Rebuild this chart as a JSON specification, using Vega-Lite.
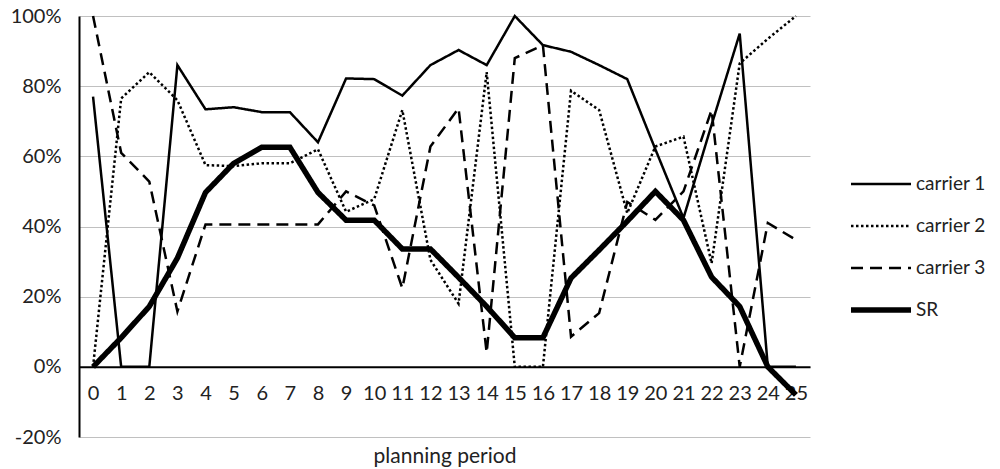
{
  "$schema": "https://vega.github.io/schema/vega-lite/v6.json",
  "autosize": {"type": "none"},
  "padding": {"left": 79, "top": 16, "right": 190, "bottom": 32},
  "width": 731,
  "height": 421,
  "background": "white",
  "config": {
    "font": "Lato",
    "view": {"stroke": null},
    "legend": {
      "title": null,
      "orient": "none",
      "legendX": 769,
      "legendY": 157,
      "symbolType": "stroke",
      "symbolStrokeColor": "black",
      "symbolSize": 3600,
      "labelFont": "Lato",
      "labelFontSize": 19,
      "labelColor": "#222",
      "labelOffset": 2,
      "rowPadding": 20,
      "clipHeight": 22
    }
  },
  "datasets": {
    "series": [
      {"period": 0, "series": "carrier 1", "value": 77}, {"period": 1, "series": "carrier 1", "value": 0}, {"period": 2, "series": "carrier 1", "value": 0}, {"period": 3, "series": "carrier 1", "value": 86}, {"period": 4, "series": "carrier 1", "value": 73.4}, {"period": 5, "series": "carrier 1", "value": 74}, {"period": 6, "series": "carrier 1", "value": 72.6}, {"period": 7, "series": "carrier 1", "value": 72.6}, {"period": 8, "series": "carrier 1", "value": 64}, {"period": 9, "series": "carrier 1", "value": 82.2}, {"period": 10, "series": "carrier 1", "value": 82}, {"period": 11, "series": "carrier 1", "value": 77.3}, {"period": 12, "series": "carrier 1", "value": 86}, {"period": 13, "series": "carrier 1", "value": 90.3}, {"period": 14, "series": "carrier 1", "value": 86}, {"period": 15, "series": "carrier 1", "value": 100}, {"period": 16, "series": "carrier 1", "value": 91.7}, {"period": 17, "series": "carrier 1", "value": 89.8}, {"period": 18, "series": "carrier 1", "value": 86}, {"period": 19, "series": "carrier 1", "value": 82}, {"period": 20, "series": "carrier 1", "value": 62}, {"period": 21, "series": "carrier 1", "value": 42.4}, {"period": 22, "series": "carrier 1", "value": 69}, {"period": 23, "series": "carrier 1", "value": 95}, {"period": 24, "series": "carrier 1", "value": 0}, {"period": 25, "series": "carrier 1", "value": 0},
      {"period": 0, "series": "carrier 2", "value": 0}, {"period": 1, "series": "carrier 2", "value": 76.5}, {"period": 2, "series": "carrier 2", "value": 84}, {"period": 3, "series": "carrier 2", "value": 76}, {"period": 4, "series": "carrier 2", "value": 57.5}, {"period": 5, "series": "carrier 2", "value": 57.2}, {"period": 6, "series": "carrier 2", "value": 58}, {"period": 7, "series": "carrier 2", "value": 58}, {"period": 8, "series": "carrier 2", "value": 62}, {"period": 9, "series": "carrier 2", "value": 44.2}, {"period": 10, "series": "carrier 2", "value": 47.8}, {"period": 11, "series": "carrier 2", "value": 73.2}, {"period": 12, "series": "carrier 2", "value": 30.5}, {"period": 13, "series": "carrier 2", "value": 18}, {"period": 14, "series": "carrier 2", "value": 84}, {"period": 15, "series": "carrier 2", "value": 0}, {"period": 16, "series": "carrier 2", "value": 0}, {"period": 17, "series": "carrier 2", "value": 78.7}, {"period": 18, "series": "carrier 2", "value": 73.2}, {"period": 19, "series": "carrier 2", "value": 43.8}, {"period": 20, "series": "carrier 2", "value": 62.8}, {"period": 21, "series": "carrier 2", "value": 65.6}, {"period": 22, "series": "carrier 2", "value": 29.5}, {"period": 23, "series": "carrier 2", "value": 86.5}, {"period": 24, "series": "carrier 2", "value": 93.5}, {"period": 25, "series": "carrier 2", "value": 100},
      {"period": 0, "series": "carrier 3", "value": 100}, {"period": 1, "series": "carrier 3", "value": 61}, {"period": 2, "series": "carrier 3", "value": 52.8}, {"period": 3, "series": "carrier 3", "value": 15.8}, {"period": 4, "series": "carrier 3", "value": 40.6}, {"period": 5, "series": "carrier 3", "value": 40.6}, {"period": 6, "series": "carrier 3", "value": 40.6}, {"period": 7, "series": "carrier 3", "value": 40.6}, {"period": 8, "series": "carrier 3", "value": 40.6}, {"period": 9, "series": "carrier 3", "value": 50}, {"period": 10, "series": "carrier 3", "value": 46}, {"period": 11, "series": "carrier 3", "value": 22.4}, {"period": 12, "series": "carrier 3", "value": 62.8}, {"period": 13, "series": "carrier 3", "value": 73.7}, {"period": 14, "series": "carrier 3", "value": 4}, {"period": 15, "series": "carrier 3", "value": 88}, {"period": 16, "series": "carrier 3", "value": 91.7}, {"period": 17, "series": "carrier 3", "value": 8.6}, {"period": 18, "series": "carrier 3", "value": 15.3}, {"period": 19, "series": "carrier 3", "value": 47}, {"period": 20, "series": "carrier 3", "value": 41.9}, {"period": 21, "series": "carrier 3", "value": 50}, {"period": 22, "series": "carrier 3", "value": 73.2}, {"period": 23, "series": "carrier 3", "value": 0}, {"period": 24, "series": "carrier 3", "value": 41}, {"period": 25, "series": "carrier 3", "value": 36.2},
      {"period": 0, "series": "SR", "value": 0}, {"period": 1, "series": "SR", "value": 8.3}, {"period": 2, "series": "SR", "value": 17.2}, {"period": 3, "series": "SR", "value": 31}, {"period": 4, "series": "SR", "value": 49.7}, {"period": 5, "series": "SR", "value": 58}, {"period": 6, "series": "SR", "value": 62.6}, {"period": 7, "series": "SR", "value": 62.6}, {"period": 8, "series": "SR", "value": 49.7}, {"period": 9, "series": "SR", "value": 41.8}, {"period": 10, "series": "SR", "value": 41.8}, {"period": 11, "series": "SR", "value": 33.6}, {"period": 12, "series": "SR", "value": 33.6}, {"period": 13, "series": "SR", "value": 25.5}, {"period": 14, "series": "SR", "value": 17.2}, {"period": 15, "series": "SR", "value": 8.3}, {"period": 16, "series": "SR", "value": 8.3}, {"period": 17, "series": "SR", "value": 25.3}, {"period": 18, "series": "SR", "value": 33.3}, {"period": 19, "series": "SR", "value": 41.5}, {"period": 20, "series": "SR", "value": 50}, {"period": 21, "series": "SR", "value": 41.8}, {"period": 22, "series": "SR", "value": 25.6}, {"period": 23, "series": "SR", "value": 17.2}, {"period": 24, "series": "SR", "value": 0}, {"period": 25, "series": "SR", "value": -8}
    ]
  },
  "data": {"name": "series"},
  "mark": {"type": "line", "color": "black", "strokeCap": "butt", "strokeJoin": "miter"},
  "encoding": {
    "x": {
      "field": "period",
      "type": "ordinal",
      "sort": null,
      "scale": {"type": "point", "padding": 0.5},
      "axis": {
        "title": "planning period",
        "offset": -70.2,
        "labelAngle": 0,
        "ticks": false,
        "grid": false,
        "domainColor": "black",
        "domainWidth": 2,
        "labelFont": "Lato",
        "labelFontSize": 20,
        "labelColor": "#222",
        "labelPadding": 17,
        "labelOverlap": false,
        "titleFont": "Lato",
        "titleFontSize": 21,
        "titleFontWeight": "normal",
        "titleColor": "#222",
        "titlePadding": 42
      }
    },
    "y": {
      "field": "value",
      "type": "quantitative",
      "scale": {"domain": [-20, 100], "nice": false, "zero": false},
      "axis": {
        "title": null,
        "values": [-20, 0, 20, 40, 60, 80, 100],
        "labelExpr": "datum.value + '%'",
        "ticks": false,
        "grid": true,
        "gridColor": "#c0c0c0",
        "gridWidth": 1,
        "domainColor": "black",
        "domainWidth": 2,
        "labelFont": "Lato",
        "labelFontSize": 20,
        "labelColor": "#222",
        "labelPadding": 18
      }
    },
    "strokeDash": {
      "field": "series",
      "type": "nominal",
      "sort": ["carrier 1", "carrier 2", "carrier 3", "SR"],
      "scale": {
        "domain": ["carrier 1", "carrier 2", "carrier 3", "SR"],
        "range": [[1, 0], [2.5, 2.5], [12, 7], [1, 0]]
      }
    },
    "strokeWidth": {
      "field": "series",
      "type": "nominal",
      "sort": ["carrier 1", "carrier 2", "carrier 3", "SR"],
      "scale": {
        "type": "ordinal",
        "domain": ["carrier 1", "carrier 2", "carrier 3", "SR"],
        "range": [2.5, 2.5, 2.5, 5.5]
      }
    }
  }
}
